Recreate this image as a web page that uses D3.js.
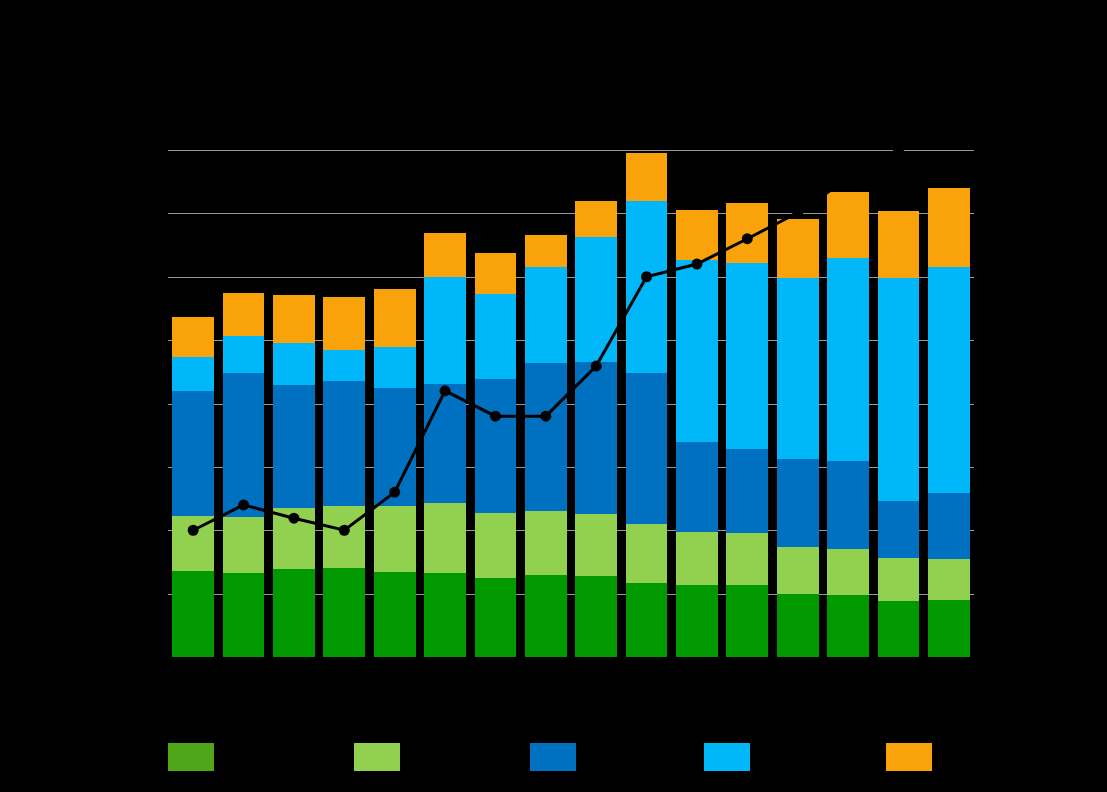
<!DOCTYPE html>
<html>
<head>
<meta charset="utf-8">
<script src="https://cdn.jsdelivr.net/npm/d3@7"></script>
<style>
  html, body { margin: 0; padding: 0; background: #000; }
  svg { display: block; }
</style>
</head>
<body>
<svg id="chart" width="1107" height="792"></svg>
<script>
// ---- data ----
const categories = ["2008","2009","2010","2011","2012","2013","2014","2015","2016","2017","2018","2019","2020","2021","2022","2023"];
const seriesNames = ["Serie 1","Serie 2","Serie 3","Serie 4","Serie 5"];
const serie1 = [1.36,1.33,1.39,1.40,1.34,1.33,1.25,1.29,1.28,1.17,1.13,1.13,1.00,0.98,0.89,0.90];
const serie2 = [0.87,0.88,0.96,0.98,1.04,1.10,1.03,1.01,0.98,0.93,0.85,0.82,0.73,0.73,0.68,0.65];
const serie3 = [1.96,2.27,1.94,1.97,1.86,1.88,2.11,2.34,2.40,2.38,1.42,1.33,1.40,1.39,0.89,1.03];
const serie4 = [0.54,0.58,0.66,0.49,0.65,1.69,1.33,1.52,1.96,2.71,2.87,2.94,2.85,3.19,3.52,3.57];
const serie5 = [0.63,0.69,0.76,0.84,0.92,0.69,0.65,0.50,0.58,0.76,0.79,0.95,0.93,1.04,1.06,1.25];
const lineValues = [2.00,2.40,2.19,2.00,2.60,4.20,3.80,3.80,4.59,6.00,6.20,6.60,7.01,7.55,8.00,8.45];
const yTicks = [0,1,2,3,4,5,6,7,8];
const barColors = ["#009900","#92D050","#0070C0","#00B7F9","#FAA20A"];
const legendColors = ["#4EA618","#92D050","#0070C0","#00B7F9","#FAA20A"];

// ---- layout ----
const svg = d3.select("#chart");
const W = 1107, H = 792;
const plot = {left: 168, right: 974, top: 150, bottom: 657};

svg.append("rect").attr("width", W).attr("height", H).attr("fill", "#000");

const x = d3.scaleBand().domain(categories)
  .range([plot.left, plot.right]).paddingInner(0.17).paddingOuter(0.085);
const y = d3.scaleLinear().domain([0, 8]).range([plot.bottom, plot.top]);

// gridlines
svg.append("g").selectAll("line")
  .data(yTicks.filter(t => t > 0))
  .join("line")
  .attr("x1", plot.left).attr("x2", plot.right)
  .attr("y1", d => Math.round(y(d)) + 0.5).attr("y2", d => Math.round(y(d)) + 0.5)
  .attr("stroke", "#999").attr("stroke-width", 1);

// stacked bars
const rows = categories.map((c, i) => ({
  cat: c, s0: serie1[i], s1: serie2[i], s2: serie3[i], s3: serie4[i], s4: serie5[i]
}));
const keys = ["s0","s1","s2","s3","s4"];
const stacked = d3.stack().keys(keys)(rows);

svg.append("g").selectAll("g")
  .data(stacked)
  .join("g")
  .attr("fill", (d, i) => barColors[i])
  .selectAll("rect")
  .data(d => d)
  .join("rect")
  .attr("x", d => x(d.data.cat))
  .attr("width", x.bandwidth())
  .attr("y", d => y(d[1]))
  .attr("height", d => y(d[0]) - y(d[1]))
  .attr("shape-rendering", "crispEdges");

// axes (black text, as in reference)
const yAxis = svg.append("g")
  .attr("transform", `translate(${plot.left},0)`)
  .call(d3.axisLeft(y).tickValues(yTicks).tickSize(0).tickPadding(10));
yAxis.select(".domain").remove();
yAxis.selectAll("text").attr("fill", "#000").attr("font-family", "Liberation Sans, Arial, sans-serif").attr("font-size", 14);

const xAxis = svg.append("g")
  .attr("transform", `translate(0,${plot.bottom})`)
  .call(d3.axisBottom(x).tickSize(0).tickPadding(10));
xAxis.select(".domain").attr("stroke", "#000");
xAxis.selectAll("text").attr("fill", "#000").attr("font-family", "Liberation Sans, Arial, sans-serif").attr("font-size", 14);

// line
const line = d3.line()
  .x((d, i) => x(categories[i]) + x.bandwidth() / 2)
  .y(d => y(d));
svg.append("path")
  .datum(lineValues)
  .attr("d", line)
  .attr("fill", "none")
  .attr("stroke", "#000")
  .attr("stroke-width", 3);
svg.append("g").selectAll("circle")
  .data(lineValues)
  .join("circle")
  .attr("cx", (d, i) => x(categories[i]) + x.bandwidth() / 2)
  .attr("cy", d => y(d))
  .attr("r", 5.5)
  .attr("fill", "#000");

// title (black)
svg.append("text").attr("x", W / 2).attr("y", 60).attr("text-anchor", "middle")
  .attr("fill", "#000").attr("font-family", "Liberation Sans, Arial, sans-serif")
  .attr("font-size", 20).text("Titel");

// legend
const legendX = [168, 354, 530, 704, 886];
const lg = svg.append("g");
seriesNames.forEach((name, i) => {
  lg.append("rect").attr("x", legendX[i]).attr("y", 743).attr("width", 46).attr("height", 28)
    .attr("fill", legendColors[i]);
  lg.append("text").attr("x", legendX[i] + 54).attr("y", 762)
    .attr("fill", "#000").attr("font-family", "Liberation Sans, Arial, sans-serif")
    .attr("font-size", 14).text(name);
});
</script>
</body>
</html>
